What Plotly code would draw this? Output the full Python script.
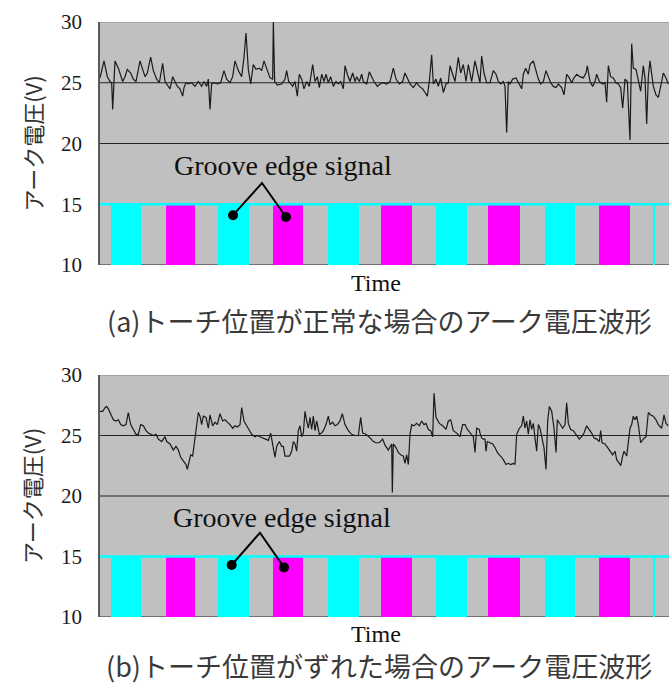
import plotly.graph_objects as go

# ---------------- data ----------------
# time in arbitrary units (axis shows no ticks), voltage in V
time_a = [0, 12, 22, 30, 35, 38, 42, 45, 55, 62, 68, 75, 82, 92, 100, 108, 115, 120, 128, 135, 142, 152, 160, 170, 178, 188, 195,
          205, 210, 218, 225, 232, 240, 248, 252, 258, 265, 275, 285, 295, 305, 312, 320, 325, 330, 335, 342, 352, 362, 372, 380,
          390, 398, 405, 415, 425, 432, 438, 445, 452, 460, 468, 478, 485, 492, 500, 510, 518, 520, 524, 532, 545, 555, 560, 566,
          570, 578, 585, 592, 598, 605, 612, 620, 628, 638, 645, 652, 658, 665, 672, 678, 685, 692, 700, 708, 715, 722, 730, 735,
          742, 750, 758, 765, 770, 778, 785, 790, 800, 808, 815, 822, 832, 840, 848, 860, 870, 880, 888, 898, 908, 915, 922, 930,
          940, 950, 958, 968, 975, 982, 988, 995, 1000, 1008, 1015, 1022, 1030, 1038, 1045, 1050, 1058, 1065, 1075, 1082, 1090,
          1098, 1105, 1115, 1125, 1135,
          1140, 1145, 1152, 1160, 1170, 1180, 1188, 1195, 1202, 1210, 1215, 1220, 1225, 1230, 1238, 1248, 1255, 1265, 1270, 1277,
          1285, 1290, 1300, 1308, 1315, 1322, 1330, 1338, 1345, 1352, 1360, 1368, 1375, 1385, 1392, 1400, 1408, 1415, 1422, 1430,
          1440, 1450, 1458, 1462, 1470, 1478, 1485, 1490, 1498, 1508, 1515, 1520, 1525, 1532, 1540, 1548, 1555, 1562, 1568, 1575,
          1582, 1590, 1595, 1600, 1608, 1615, 1622, 1630, 1635, 1640, 1645, 1650, 1655, 1660, 1668, 1675, 1682, 1690, 1698, 1705]
volt_a = [25.4, 26.8, 25.5, 25.1, 25.0, 22.8, 25.1, 26.8, 26.2, 25.7, 25.1, 25.5, 26.1, 25.8, 25.3, 25.1, 26.0, 26.8, 26.1, 25.5,
          25.8, 27.1, 26.0, 25.3, 25.0, 26.6, 25.1, 24.7, 24.5, 25.5, 25.1, 24.7, 24.5, 23.9, 24.6, 25.0, 24.9, 25.0, 24.7, 25.1,
          24.7, 25.1, 24.7, 25.3, 22.8, 24.9, 25.0, 24.9, 25.0, 26.0, 25.3, 25.0, 25.5, 26.8, 26.0, 25.5, 27.1, 29.1, 26.1, 24.9,
          26.5, 26.1, 26.2, 26.0, 26.8, 26.1, 25.4, 25.3, 30.0, 25.1, 24.8, 24.9, 25.3, 26.0, 25.1,
          25.0, 24.7, 25.1, 23.9, 25.7, 25.3, 24.5, 25.1, 24.7, 26.5, 25.1, 25.5, 24.6, 25.7, 25.1, 25.7, 25.0, 25.5, 24.7, 25.1,
          24.9, 25.1, 24.5, 26.4, 25.7, 25.1, 25.8, 25.1, 25.5, 25.1, 25.7, 25.1, 24.9, 25.9, 25.5, 25.1, 24.7, 24.9, 25.0, 24.9,
          25.1, 26.2, 25.3, 24.9, 25.1, 25.8, 25.4, 24.9, 24.6, 25.0, 24.7, 24.5, 24.2, 23.9, 25.1, 27.3, 24.9, 25.3, 24.7, 25.4,
          24.2, 24.9, 25.0, 26.4, 25.7, 25.1, 27.1, 25.8, 26.5, 25.1, 26.5, 25.1, 26.8, 25.4,
          25.0, 27.2, 25.8, 25.0, 25.0, 26.0, 25.7, 25.1, 24.9, 25.1, 24.7, 20.9, 25.1, 24.9, 25.3, 25.4, 25.0, 24.5, 25.7, 26.2,
          25.7, 26.5, 26.8, 26.0, 25.3, 24.9, 25.1, 26.0, 25.5, 25.0, 24.7, 24.6, 24.9, 24.6, 24.0, 25.7, 25.4, 25.0, 25.4, 25.7,
          25.5, 25.4, 25.8, 26.4, 25.1, 24.7, 25.1, 25.7, 25.1, 24.9, 25.0, 23.4, 26.4, 25.5, 25.4, 25.0, 24.9, 24.6, 22.9, 25.3,
          25.1, 20.3, 28.2, 26.2, 26.1, 25.1, 24.3, 26.4, 25.4, 21.6, 25.5, 26.8, 25.8, 24.7, 24.0, 23.8, 24.7, 25.8, 25.4, 24.9]

time_b = [0, 8, 15, 20, 25, 32, 40, 48, 55, 62, 70, 78, 85, 92, 100, 108, 115, 122, 130, 138, 145, 152, 160, 168, 175, 185, 195,
          200, 210, 220, 228, 235, 242, 250, 258, 262, 268, 272, 278, 285, 290, 295, 300, 305, 310, 318, 325, 330, 338, 345, 352,
          360, 368, 375, 382, 390, 398, 405, 412, 420, 425, 432, 440, 448, 455, 465, 472, 480, 488, 495, 505, 512, 518, 525, 530,
          538, 545, 550, 555, 562, 568,
          570, 575, 580, 585, 590, 595, 600, 605, 610, 615, 620, 625, 630, 635, 640, 645, 650, 658, 665, 670, 678, 685, 690, 698,
          705, 712, 720, 727, 735, 745, 755, 765, 775, 782, 788, 798, 810, 820, 828, 838, 848, 855, 865, 875, 877, 880, 888, 895,
          902, 910, 915, 920, 925, 930, 935, 942, 950, 958, 965, 972, 978, 985, 992, 998, 1002, 1008, 1018, 1028, 1038, 1045,
          1052, 1060, 1070, 1080, 1088, 1095, 1102, 1110, 1120, 1125, 1130, 1138,
          1140, 1145, 1150, 1155, 1158, 1162, 1170, 1178, 1185, 1192, 1198, 1205, 1212, 1218, 1225, 1232, 1240, 1245, 1250, 1258,
          1265, 1270, 1275, 1280, 1285, 1290, 1295, 1300, 1305, 1310, 1315, 1320, 1325, 1332, 1338, 1343, 1348, 1355, 1362, 1368,
          1372, 1380, 1388, 1395, 1400, 1405, 1412, 1420, 1428, 1438, 1445, 1452, 1460, 1468, 1475, 1482, 1490, 1498, 1502, 1506,
          1515, 1523, 1530, 1538, 1545, 1550, 1558, 1562, 1568, 1572, 1580, 1585, 1590, 1595, 1600, 1605, 1610, 1615, 1622, 1630,
          1638, 1645, 1652, 1660, 1668, 1675, 1685, 1692, 1698, 1705]
volt_b = [27.0, 27.0, 27.3, 27.4, 27.2, 26.7, 26.3, 26.2, 26.3, 25.9, 25.8, 25.9, 26.9, 25.9, 25.5, 25.1, 25.1, 25.9, 25.8, 25.4,
          25.2, 25.1, 25.0, 25.1, 24.7, 24.5, 24.9, 24.5, 24.3, 23.8, 24.1, 23.8, 23.2, 22.9, 22.6, 22.2, 23.0, 23.4, 23.3, 24.9,
          26.2, 26.9, 26.6, 25.9, 26.6, 26.5, 25.6, 26.7, 25.8, 26.1, 25.9, 26.8, 26.2, 26.3, 26.1, 25.9, 25.6, 25.8, 25.7, 25.9,
          27.3, 26.2, 25.8, 25.4, 25.1, 24.9, 25.0, 24.9, 24.8, 24.7, 24.6, 25.2, 24.4, 23.2, 24.1, 24.5, 24.1, 24.1, 23.3, 23.3,
          23.3,
          23.4, 23.7, 24.5, 24.3, 23.7, 25.4, 25.8, 24.9, 25.2, 27.0, 26.2, 25.6, 26.5, 25.5, 26.6, 25.4, 26.2, 25.1, 25.2, 25.4,
          25.9, 26.6, 25.9, 26.1, 25.8, 25.9, 26.2, 26.8, 25.9, 25.4, 25.1, 25.0, 25.0, 26.5, 25.2, 25.1, 24.8, 24.5, 24.4, 24.4,
          24.7, 24.2, 23.8, 24.3, 20.3, 24.3, 24.0, 23.6, 23.4, 23.3, 22.7, 23.4, 22.6, 25.1, 25.9, 25.8, 26.0, 25.8, 26.2, 25.9,
          26.0, 25.5, 25.4, 24.9, 28.5, 26.5, 26.0, 25.8, 25.5, 26.2, 26.3, 25.4, 25.2, 24.9, 25.9, 25.9, 25.5, 25.2, 24.9, 23.6,
          25.6, 25.5,
          25.2, 24.8, 24.7, 24.7, 23.7, 24.5, 24.4, 24.3, 24.0, 23.6, 23.4, 23.2, 22.9, 22.6, 22.7, 22.6, 22.7, 22.6, 25.1, 25.6,
          25.8, 26.6, 25.6, 26.2, 25.1, 26.3, 25.5, 26.0, 24.8, 23.7, 25.9, 25.6, 24.9, 24.0, 22.2, 26.2, 27.4, 27.0, 25.6, 23.6,
          26.3, 25.9, 25.6, 25.9, 27.7, 26.0, 25.5, 25.4, 25.1, 24.7, 24.9, 25.2, 25.8, 25.5, 25.2, 24.8, 24.7, 24.5, 25.4, 24.4,
          24.3, 24.0, 23.7, 23.4, 23.7, 23.0, 22.7, 22.5, 23.3, 23.7, 23.3, 24.5, 25.6, 25.9, 26.6, 26.3, 26.6, 25.9, 24.4, 24.7,
          24.9, 26.9, 26.7, 26.6, 26.3, 25.9, 25.6, 26.7, 26.0, 25.8]

# groove edge signals (pulse start and width, same time units), level 10 V -> 15 V
cyan_start = [32, 354, 684, 1008, 1335, 1659]
cyan_width = [90, 93, 93, 92, 90, 5]
magenta_start = [197, 518, 842, 1164, 1497]
magenta_width = [88, 91, 93, 96, 93]
signal_low = 10
signal_high = 15

y_ticks = [10, 15, 20, 25, 30]
t_max = 1707

captions = ["(a)トーチ位置が正常な場合のアーク電圧波形", "(b)トーチ位置がずれた場合のアーク電圧波形"]
y_title = "アーク電圧(V)"
annot_text = "Groove edge signal"
# annotation pointer: dot, apex, dot (time, voltage) for each panel
pointer_a = ([399, 486, 558], [14.1, 16.75, 13.95])
pointer_b = ([395, 480, 552], [14.3, 16.96, 14.1])
annot_pos = [(549, 18.15), (545, 18.26)]

# ---------------- figure ----------------
W, H = 669, 685
serif = "Liberation Serif"
cjk = "Noto Sans CJK JP"
fig = go.Figure()

panels = [
    dict(t=time_a, v=volt_a, xa="x", ya="y", ptr=pointer_a, top=22, bottom=265, time_y=283, cap_y=320),
    dict(t=time_b, v=volt_b, xa="x2", ya="y2", ptr=pointer_b, top=375, bottom=617, time_y=634, cap_y=665),
]

x_dom = [100 / W, 1.0]
for i, p in enumerate(panels):
    sfx = "" if i == 0 else "2"
    dom = [1 - p["bottom"] / H, 1 - p["top"] / H]
    fig.update_layout(**{
        f"xaxis{sfx}": dict(domain=x_dom, range=[0, t_max], showticklabels=False, showgrid=False, zeroline=False,
                            showline=False, anchor=f"y{sfx}", fixedrange=True, automargin=False),
        f"yaxis{sfx}": dict(domain=dom, range=[10, 30], tickvals=y_ticks, showgrid=False, zeroline=False,
                            showline=True, linecolor="#5a5a5a", linewidth=1.5, ticks="", ticklabelstandoff=12,
                            tickfont=dict(family=serif, size=21, color="#1a1a1a"), anchor=f"x{sfx}",
                            fixedrange=True, automargin=False),
    })
    # signal baseline at 15 V
    fig.add_trace(go.Scatter(x=[0, t_max], y=[signal_high, signal_high], mode="lines",
                             line=dict(color="#00ffff", width=2.5), xaxis=p["xa"], yaxis=p["ya"],
                             hoverinfo="skip", showlegend=False))
    fig.add_trace(go.Bar(x=cyan_start, y=[signal_high - signal_low] * len(cyan_start), base=signal_low,
                         width=cyan_width, offset=0, marker=dict(color="#00ffff", line=dict(width=0)),
                         xaxis=p["xa"], yaxis=p["ya"], showlegend=False))
    fig.add_trace(go.Bar(x=magenta_start, y=[signal_high - signal_low] * len(magenta_start), base=signal_low,
                         width=magenta_width, offset=0, marker=dict(color="#ff00ff", line=dict(width=0)),
                         xaxis=p["xa"], yaxis=p["ya"], showlegend=False))
    # waveform
    fig.add_trace(go.Scatter(x=p["t"], y=p["v"], mode="lines", line=dict(color="#1a1a1a", width=1.2),
                             xaxis=p["xa"], yaxis=p["ya"], showlegend=False))
    # pointer
    px, py = p["ptr"]
    fig.add_trace(go.Scatter(x=px, y=py, mode="lines", line=dict(color="black", width=2),
                             xaxis=p["xa"], yaxis=p["ya"], showlegend=False, hoverinfo="skip"))
    fig.add_trace(go.Scatter(x=[px[0], px[2]], y=[py[0], py[2]], mode="markers",
                             marker=dict(color="black", size=10), xaxis=p["xa"], yaxis=p["ya"], showlegend=False))
    # grid lines
    for yv, col, w in [(20, "#222222", 1.2), (25, "#222222", 1.2), (30, "#9a9a9a", 1.5), (10, "#5a5a5a", 1.5)]:
        fig.add_shape(type="line", xref=f"x{sfx} domain", yref=p["ya"], x0=0, x1=1, y0=yv, y1=yv,
                      line=dict(color=col, width=w), layer="below")
    # annotation text
    ax_, ay_ = annot_pos[i]
    fig.add_annotation(x=ax_, y=ay_, xref=p["xa"], yref=p["ya"], text=annot_text, showarrow=False,
                       xanchor="center", yanchor="middle",
                       font=dict(family=serif, size=28, color="#111111"))
    # y title
    fig.add_annotation(x=31 / W, y=1 - (p["top"] + p["bottom"]) / 2 / H, xref="paper", yref="paper", text=y_title,
                       textangle=-90, showarrow=False, xanchor="center", yanchor="middle",
                       font=dict(family=cjk, size=22, color="#333333"))
    # Time label
    fig.add_annotation(x=376 / W, y=1 - p["time_y"] / H, xref="paper", yref="paper", text="Time",
                       showarrow=False, xanchor="center", yanchor="middle",
                       font=dict(family=serif, size=24, color="#111111"))
    # caption
    fig.add_annotation(x=379 / W, y=1 - p["cap_y"] / H, xref="paper", yref="paper", text=captions[i],
                       showarrow=False, xanchor="center", yanchor="middle",
                       font=dict(family=cjk, size=27, color="#3a3a3a"))

fig.update_layout(width=W, height=H, margin=dict(l=0, r=0, t=0, b=0), paper_bgcolor="white",
                  plot_bgcolor="#c0c0c0", barmode="overlay", bargap=0, showlegend=False)

fig.write_html("out.html", config={"displayModeBar": False},
               post_script="document.body.style.margin='0';")
